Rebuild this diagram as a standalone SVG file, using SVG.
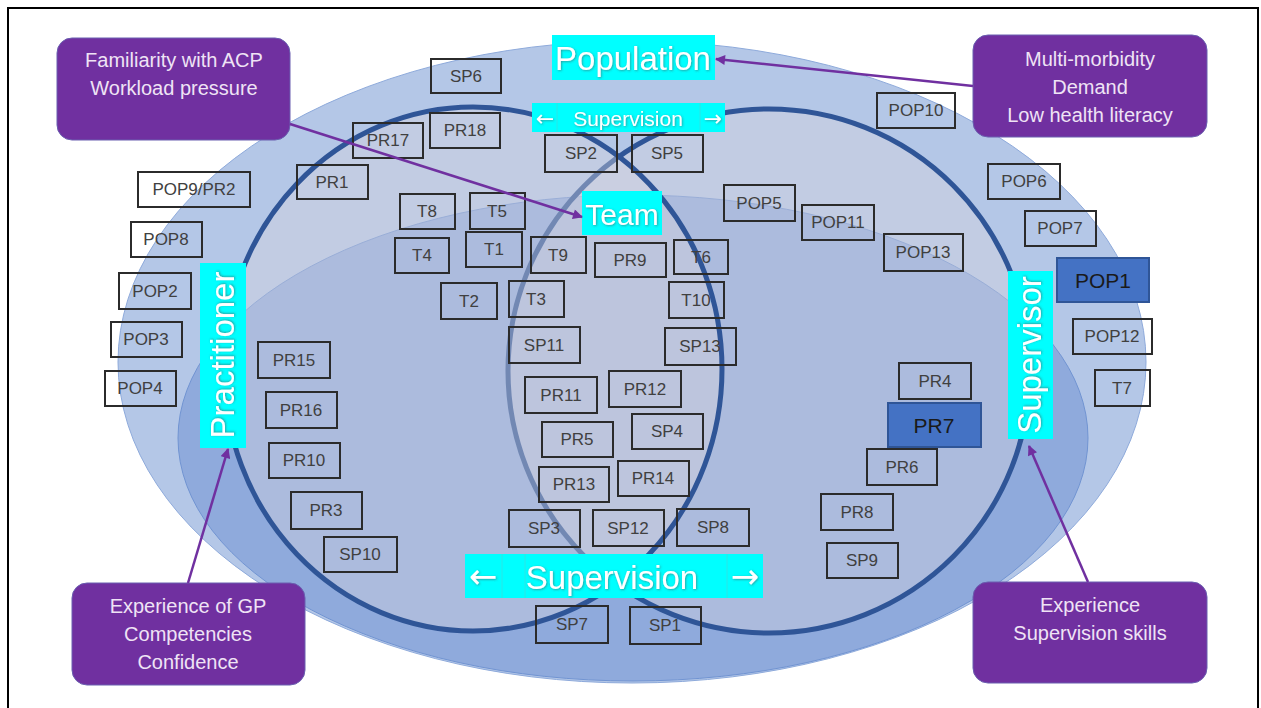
<svg xmlns="http://www.w3.org/2000/svg" width="1261" height="708" viewBox="0 0 1261 708">
  <defs>
    <style>
      .box rect { fill: none; stroke: #2b2b2b; stroke-width: 2; }
      .box text { font-family: "Liberation Sans", Arial, sans-serif; font-size: 17px; fill: #404040; text-anchor: middle; }
      .hl rect { fill: #4472c4; stroke: #2f5597; stroke-width: 2; }
      .hl text { font-family: "Liberation Sans", Arial, sans-serif; font-size: 21px; fill: #1a1a1a; text-anchor: middle; }
      .tag rect { fill: #00ffff; }
      .tag text { font-family: "Liberation Sans", Arial, sans-serif; fill: #ffffff; text-anchor: middle; filter: url(#soft); }
      .tag .arr { font-family: "DejaVu Sans", sans-serif; }
      .tag line { stroke: #2ae6e6; stroke-width: 1; }
      .call rect { fill: #7030a0; stroke: #6a5fb0; stroke-width: 1; }
      .call text { font-family: "Liberation Sans", Arial, sans-serif; font-size: 20px; fill: #efe3f5; text-anchor: middle; }
      .link { stroke: #7030a0; stroke-width: 2.5; fill: none; marker-end: url(#tip); }
      .ring { fill: #d7d4de; fill-opacity: 0.4; stroke: #2f5597; stroke-width: 5; }
    </style>
    <marker id="tip" viewBox="0 0 10 10" refX="9" refY="5" markerUnits="userSpaceOnUse" markerWidth="11" markerHeight="10" orient="auto">
      <path d="M0,0 L10,5 L0,10 z" fill="#7030a0"/>
    </marker>
    <filter id="soft" x="-10%" y="-20%" width="120%" height="140%">
      <feDropShadow dx="0.8" dy="0.8" stdDeviation="0.8" flood-color="#4d4d4d" flood-opacity="0.55"/>
    </filter>
  </defs>

  <!-- frame -->
  <rect x="8" y="8" width="1250" height="720" fill="#ffffff" stroke="#000000" stroke-width="2"/>

  <!-- nested zones -->
  <g id="zone-population">
    <ellipse cx="632" cy="362" rx="514" ry="321" fill="#b4c7e7" stroke="#8eaadb" stroke-width="1"/>
  </g>
  <g id="zone-team">
    <ellipse cx="633" cy="438" rx="455" ry="243" fill="#8faadc" stroke="#7194d2" stroke-width="1"/>
  </g>
  <g id="circle-supervisor">
    <ellipse class="ring" cx="769" cy="371" rx="261" ry="262"/>
  </g>
  <g id="circle-practitioner">
    <ellipse class="ring" cx="473" cy="369" rx="249" ry="262"/>
  </g>

  <!-- plain code boxes -->
  <g id="n-sp6" class="box"><rect x="431" y="59" width="70" height="34"/><text x="466" y="82">SP6</text></g>
  <g id="n-pr18" class="box"><rect x="430" y="113" width="70" height="35"/><text x="465" y="136">PR18</text></g>
  <g id="n-pr17" class="box"><rect x="353" y="123" width="70" height="35"/><text x="388" y="146">PR17</text></g>
  <g id="n-pr1" class="box"><rect x="297" y="165" width="71" height="34"/><text x="332" y="188">PR1</text></g>
  <g id="n-pop9-pr2" class="box"><rect x="138" y="172" width="112" height="35"/><text x="194" y="195">POP9/PR2</text></g>
  <g id="n-pop8" class="box"><rect x="131" y="222" width="71" height="35"/><text x="166" y="245">POP8</text></g>
  <g id="n-pop2" class="box"><rect x="119" y="273" width="72" height="36"/><text x="155" y="297">POP2</text></g>
  <g id="n-pop3" class="box"><rect x="111" y="322" width="71" height="35"/><text x="146" y="345">POP3</text></g>
  <g id="n-pop4" class="box"><rect x="105" y="371" width="71" height="35"/><text x="140" y="394">POP4</text></g>
  <g id="n-pr15" class="box"><rect x="258" y="342" width="72" height="36"/><text x="294" y="366">PR15</text></g>
  <g id="n-pr16" class="box"><rect x="266" y="392" width="71" height="36"/><text x="301" y="416">PR16</text></g>
  <g id="n-pr10" class="box"><rect x="269" y="443" width="71" height="35"/><text x="304" y="466">PR10</text></g>
  <g id="n-pr3" class="box"><rect x="291" y="492" width="71" height="37"/><text x="326" y="516">PR3</text></g>
  <g id="n-sp10" class="box"><rect x="324" y="537" width="73" height="35"/><text x="360" y="560">SP10</text></g>
  <g id="n-t8" class="box"><rect x="400" y="194" width="55" height="35"/><text x="427" y="217">T8</text></g>
  <g id="n-t5" class="box"><rect x="470" y="193" width="55" height="36"/><text x="497" y="217">T5</text></g>
  <g id="n-t4" class="box"><rect x="395" y="238" width="54" height="35"/><text x="422" y="261">T4</text></g>
  <g id="n-t1" class="box"><rect x="466" y="232" width="56" height="35"/><text x="494" y="255">T1</text></g>
  <g id="n-t9" class="box"><rect x="531" y="237" width="55" height="36"/><text x="558" y="261">T9</text></g>
  <g id="n-pr9" class="box"><rect x="595" y="243" width="71" height="34"/><text x="630" y="266">PR9</text></g>
  <g id="n-t6" class="box"><rect x="674" y="240" width="54" height="34"/><text x="701" y="263">T6</text></g>
  <g id="n-t2" class="box"><rect x="441" y="283" width="56" height="36"/><text x="469" y="307">T2</text></g>
  <g id="n-t3" class="box"><rect x="509" y="281" width="55" height="36"/><text x="536" y="305">T3</text></g>
  <g id="n-t10" class="box"><rect x="669" y="282" width="55" height="36"/><text x="696" y="306">T10</text></g>
  <g id="n-sp11" class="box"><rect x="509" y="327" width="71" height="36"/><text x="544" y="351">SP11</text></g>
  <g id="n-sp13" class="box"><rect x="665" y="328" width="71" height="37"/><text x="700" y="352">SP13</text></g>
  <g id="n-pr11" class="box"><rect x="525" y="377" width="72" height="36"/><text x="561" y="401">PR11</text></g>
  <g id="n-pr12" class="box"><rect x="609" y="371" width="72" height="36"/><text x="645" y="395">PR12</text></g>
  <g id="n-pr5" class="box"><rect x="542" y="422" width="71" height="35"/><text x="577" y="445">PR5</text></g>
  <g id="n-sp4" class="box"><rect x="632" y="414" width="71" height="35"/><text x="667" y="437">SP4</text></g>
  <g id="n-pr13" class="box"><rect x="539" y="467" width="70" height="35"/><text x="574" y="490">PR13</text></g>
  <g id="n-pr14" class="box"><rect x="618" y="461" width="71" height="35"/><text x="653" y="484">PR14</text></g>
  <g id="n-sp3" class="box"><rect x="509" y="510" width="71" height="37"/><text x="544" y="534">SP3</text></g>
  <g id="n-sp12" class="box"><rect x="593" y="510" width="71" height="36"/><text x="628" y="534">SP12</text></g>
  <g id="n-sp8" class="box"><rect x="677" y="509" width="72" height="37"/><text x="713" y="533">SP8</text></g>
  <g id="n-sp7" class="box"><rect x="536" y="606" width="72" height="37"/><text x="572" y="630">SP7</text></g>
  <g id="n-sp1" class="box"><rect x="630" y="607" width="71" height="37"/><text x="665" y="631">SP1</text></g>
  <g id="n-sp2" class="box"><rect x="545" y="135" width="72" height="37"/><text x="581" y="159">SP2</text></g>
  <g id="n-sp5" class="box"><rect x="632" y="135" width="71" height="37"/><text x="667" y="159">SP5</text></g>
  <g id="n-pop5" class="box"><rect x="724" y="185" width="71" height="36"/><text x="759" y="209">POP5</text></g>
  <g id="n-pop11" class="box"><rect x="802" y="205" width="72" height="35"/><text x="838" y="228">POP11</text></g>
  <g id="n-pop13" class="box"><rect x="884" y="234" width="79" height="37"/><text x="923" y="258">POP13</text></g>
  <g id="n-pop10" class="box"><rect x="877" y="93" width="78" height="35"/><text x="916" y="116">POP10</text></g>
  <g id="n-pop6" class="box"><rect x="988" y="164" width="72" height="35"/><text x="1024" y="187">POP6</text></g>
  <g id="n-pop7" class="box"><rect x="1025" y="211" width="71" height="35"/><text x="1060" y="234">POP7</text></g>
  <g id="n-pop12" class="box"><rect x="1073" y="319" width="79" height="35"/><text x="1112" y="342">POP12</text></g>
  <g id="n-t7" class="box"><rect x="1095" y="370" width="55" height="36"/><text x="1122" y="394">T7</text></g>
  <g id="n-pr4" class="box"><rect x="899" y="363" width="72" height="36"/><text x="935" y="387">PR4</text></g>
  <g id="n-pr6" class="box"><rect x="867" y="449" width="70" height="36"/><text x="902" y="473">PR6</text></g>
  <g id="n-pr8" class="box"><rect x="821" y="494" width="72" height="36"/><text x="857" y="518">PR8</text></g>
  <g id="n-sp9" class="box"><rect x="827" y="543" width="71" height="35"/><text x="862" y="566">SP9</text></g>

  <!-- highlighted code boxes -->
  <g id="n-pop1" class="hl"><rect x="1057" y="258" width="92" height="44"/><text x="1103" y="288">POP1</text></g>
  <g id="n-pr7" class="hl"><rect x="888" y="403" width="93" height="44"/><text x="934" y="433">PR7</text></g>

  <!-- domain labels -->
  <g id="label-population" class="tag">
    <rect x="552" y="35" width="163" height="45"/>
    <text x="633" y="70" font-size="33">Population</text>
  </g>
  <g id="label-team" class="tag">
    <rect x="582" y="191" width="80" height="44"/>
    <text x="622" y="225" font-size="30">Team</text>
  </g>
  <g id="label-practitioner" class="tag">
    <rect x="200" y="263" width="46" height="185"/>
    <text x="223" y="366" font-size="33" transform="rotate(-90 223 355)">Practitioner</text>
  </g>
  <g id="label-supervisor" class="tag">
    <rect x="1008" y="271" width="45" height="168"/>
    <text x="1030" y="366" font-size="33" transform="rotate(-90 1030 355)">Supervisor</text>
  </g>
  <g id="label-supervision-top" class="tag">
    <rect x="532" y="103" width="193" height="29"/>
    <line x1="557" y1="103" x2="557" y2="132"/>
    <line x1="700" y1="103" x2="700" y2="132"/>
    <text class="arr" x="545" y="126" font-size="22">←</text>
    <text x="628" y="126" font-size="21">Supervision</text>
    <text class="arr" x="713" y="126" font-size="22">→</text>
  </g>
  <g id="label-supervision-bottom" class="tag">
    <rect x="465" y="554" width="298" height="44"/>
    <line x1="502" y1="554" x2="502" y2="598"/>
    <line x1="525" y1="554" x2="525" y2="598"/>
    <line x1="727" y1="554" x2="727" y2="598"/>
    <text class="arr" x="483" y="588" font-size="34">←</text>
    <text x="612" y="589" font-size="33">Supervision</text>
    <text class="arr" x="745" y="588" font-size="34">→</text>
  </g>

  <!-- influence callouts -->
  <g id="call-practice" class="call">
    <rect x="57" y="38" width="233" height="102" rx="15"/>
    <text x="174" y="67">Familiarity with ACP</text>
    <text x="174" y="95">Workload pressure</text>
  </g>
  <g id="call-population" class="call">
    <rect x="973" y="35" width="234" height="102" rx="15"/>
    <text x="1090" y="66">Multi-morbidity</text>
    <text x="1090" y="94">Demand</text>
    <text x="1090" y="122">Low health literacy</text>
  </g>
  <g id="call-practitioner" class="call">
    <rect x="72" y="583" width="233" height="102" rx="15"/>
    <text x="188" y="613">Experience of GP</text>
    <text x="188" y="641">Competencies</text>
    <text x="188" y="669">Confidence</text>
  </g>
  <g id="call-supervisor" class="call">
    <rect x="973" y="582" width="234" height="101" rx="15"/>
    <text x="1090" y="612">Experience</text>
    <text x="1090" y="640">Supervision skills</text>
  </g>

  <!-- connectors -->
  <g id="connectors">
    <line class="link" x1="290" y1="124" x2="582" y2="217"/>
    <line class="link" x1="973" y1="86" x2="716" y2="59"/>
    <line class="link" x1="188" y1="583" x2="228" y2="449"/>
    <line class="link" x1="1088" y1="582" x2="1029" y2="446"/>
  </g>
</svg>
